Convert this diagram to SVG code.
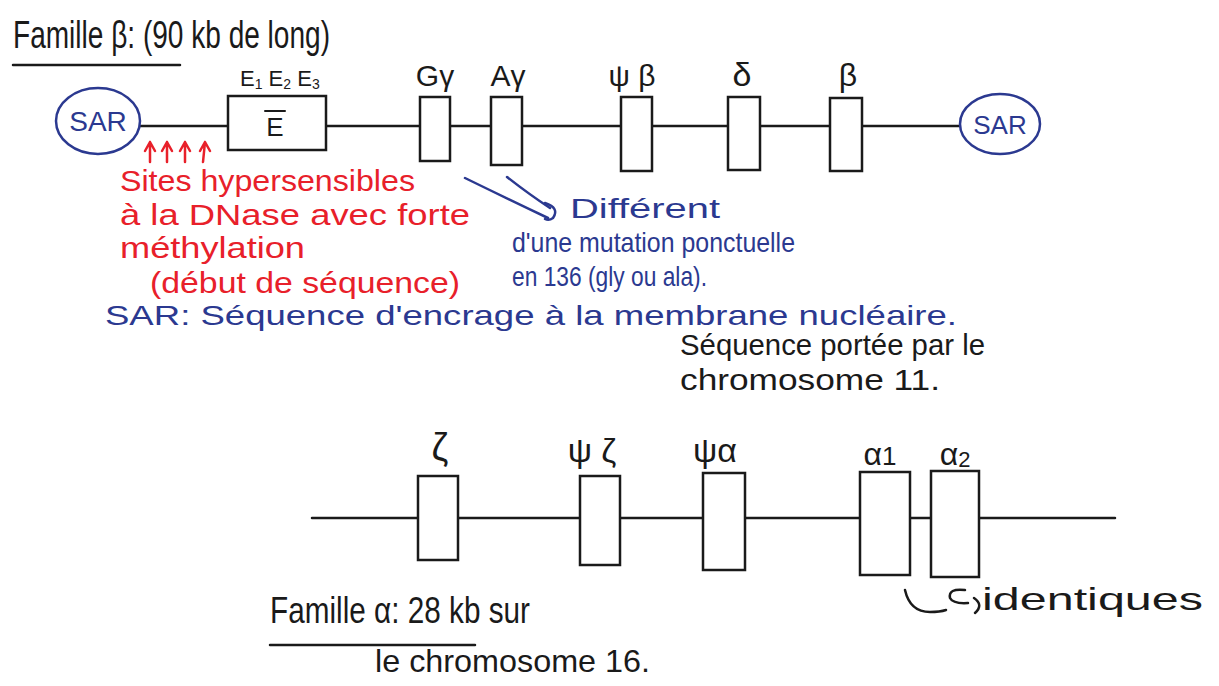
<svg xmlns="http://www.w3.org/2000/svg" width="1219" height="686" viewBox="0 0 1219 686">
<style>
.bg{fill:#ffffff}
.ln{stroke:#1a1a1a;stroke-width:2.5;fill:none;stroke-linecap:round}
.box{stroke:#1a1a1a;stroke-width:2.5;fill:#ffffff}
.sar{stroke:#2b3990;stroke-width:2.5;fill:#ffffff}
.t{font-family:"Liberation Sans",Arial,sans-serif;fill:#1a1a1a}
.red{font-family:"Liberation Sans",Arial,sans-serif;fill:#e8202a}
.blue{font-family:"Liberation Sans",Arial,sans-serif;fill:#2b3990}
.ra{stroke:#e8202a;stroke-width:2.5;fill:none;stroke-linecap:round;stroke-linejoin:round}
.ba{stroke:#2b3990;stroke-width:2.5;fill:none;stroke-linecap:round}
.ka{stroke:#1a1a1a;stroke-width:2.5;fill:none;stroke-linecap:round}
</style>
<rect class="bg" x="0" y="0" width="1219" height="686"/>

<!-- Beta family -->
<g id="title-beta">
<text class="t" x="13" y="48" font-size="38" textLength="317" lengthAdjust="spacingAndGlyphs">Famille β: (90 kb de long)</text>
<line class="ln" x1="13" y1="65" x2="180" y2="65"/>
</g>

<g id="connectors">
<line class="ln" x1="140" y1="126" x2="960" y2="126"/>
<line class="ln" x1="312" y1="518" x2="1115" y2="518"/>
<!-- red arrows -->
<path class="ra" d="M150 162 L150 142 M145 151 L150 142 L155 151"/>
<path class="ra" d="M167 162 L167 142 M162 151 L167 142 L172 151"/>
<path class="ra" d="M185 162 L185 142 M180 151 L185 142 L190 151"/>
<path class="ra" d="M203 162 L205 142 M200 151 L205 142 L210 151"/>
<!-- blue arrows -->
<path class="ba" d="M465 178 Q510 200 548 218"/>
<path class="ba" d="M507 177 Q530 195 550 208"/>
<path class="ba" d="M545 203 Q560 208 553 218 Q549 221 545 219"/>
<!-- identiques bracket -->
<path class="ka" d="M905 590 Q910 612 930 612 Q940 612 946 610"/>
<path class="ka" d="M965 590 Q948 588 950 598 Q953 604 968 603"/>
<path class="ka" d="M974 598 Q984 605 975 613"/>
</g>

<g id="sar-left">
<ellipse class="sar" cx="98" cy="121" rx="42" ry="33"/>
<text class="blue" x="98" y="131" font-size="28" text-anchor="middle">SAR</text>
</g>

<g id="gene-E">
<rect class="box" x="228" y="96" width="98" height="54"/>
<text class="t" x="240" y="86" font-size="22">E<tspan font-size="14" dy="3">1</tspan><tspan dy="-3"> E</tspan><tspan font-size="14" dy="3">2</tspan><tspan dy="-3"> E</tspan><tspan font-size="14" dy="3">3</tspan></text>
<text class="t" x="275" y="136" font-size="26" text-anchor="middle">E</text>
<line class="ln" x1="265" y1="111" x2="285" y2="111" style="stroke-width:2"/>
</g>

<g id="gene-Ggamma">
<rect class="box" x="420" y="97" width="30" height="64"/>
<text class="t" x="435" y="86" font-size="30" text-anchor="middle">Gγ</text>
</g>
<g id="gene-Agamma">
<rect class="box" x="491" y="97" width="31" height="68"/>
<text class="t" x="508" y="86" font-size="30" text-anchor="middle">Aγ</text>
</g>
<g id="gene-psibeta">
<rect class="box" x="621" y="97" width="31" height="74"/>
<text class="t" x="632" y="86" font-size="30" text-anchor="middle">ψ β</text>
</g>
<g id="gene-delta">
<rect class="box" x="728" y="97" width="32" height="73"/>
<text class="t" x="742" y="86" font-size="34" text-anchor="middle">δ</text>
</g>
<g id="gene-beta">
<rect class="box" x="830" y="98" width="32" height="73"/>
<text class="t" x="848" y="86" font-size="32" text-anchor="middle">β</text>
</g>

<g id="sar-right">
<ellipse class="sar" cx="1000" cy="124" rx="40" ry="30"/>
<text class="blue" x="1000" y="134" font-size="26" text-anchor="middle">SAR</text>
</g>

<g id="note-red">
<text class="red" x="120" y="191" font-size="30" textLength="295" lengthAdjust="spacingAndGlyphs">Sites hypersensibles</text>
<text class="red" x="120" y="225" font-size="30" textLength="350" lengthAdjust="spacingAndGlyphs">à la DNase avec forte</text>
<text class="red" x="120" y="258" font-size="30" textLength="185" lengthAdjust="spacingAndGlyphs">méthylation</text>
<text class="red" x="150" y="293" font-size="30" textLength="310" lengthAdjust="spacingAndGlyphs">(début de séquence)</text>
</g>

<g id="note-blue">
<text class="blue" x="570" y="218" font-size="27" textLength="150" lengthAdjust="spacingAndGlyphs">Différent</text>
<text class="blue" x="512" y="252" font-size="28" textLength="283" lengthAdjust="spacingAndGlyphs">d'une mutation ponctuelle</text>
<text class="blue" x="512" y="286" font-size="28" textLength="195" lengthAdjust="spacingAndGlyphs">en 136 (gly ou ala).</text>
<text class="blue" x="105" y="325" font-size="28" textLength="852" lengthAdjust="spacingAndGlyphs">SAR: Séquence d'encrage à la membrane nucléaire.</text>
</g>

<g id="note-chromo11">
<text class="t" x="680" y="355" font-size="30" textLength="305" lengthAdjust="spacingAndGlyphs">Séquence portée par le</text>
<text class="t" x="680" y="390" font-size="30" textLength="260" lengthAdjust="spacingAndGlyphs">chromosome 11.</text>
</g>

<!-- Alpha family -->
<g id="gene-zeta">
<rect class="box" x="418" y="476" width="40" height="84"/>
<text class="t" x="440" y="460" font-size="38" text-anchor="middle">ζ</text>
</g>
<g id="gene-psizeta">
<rect class="box" x="580" y="476" width="40" height="89"/>
<text class="t" x="592" y="462" font-size="34" text-anchor="middle">ψ ζ</text>
</g>
<g id="gene-psialpha">
<rect class="box" x="703" y="473" width="42" height="97"/>
<text class="t" x="715" y="462" font-size="34" text-anchor="middle">ψα</text>
</g>
<g id="gene-alpha1">
<rect class="box" x="860" y="472" width="50" height="103"/>
<text class="t" x="880" y="465" font-size="32" text-anchor="middle">α<tspan font-size="26">1</tspan></text>
</g>
<g id="gene-alpha2">
<rect class="box" x="931" y="471" width="48" height="106"/>
<text class="t" x="955" y="465" font-size="32" text-anchor="middle">α<tspan font-size="22" dy="2">2</tspan></text>
</g>

<g id="note-identiques">
<text class="t" x="982" y="610" font-size="32" textLength="221" lengthAdjust="spacingAndGlyphs">identiques</text>
</g>

<g id="title-alpha">
<text class="t" x="270" y="623" font-size="36" textLength="260" lengthAdjust="spacingAndGlyphs">Famille α: 28 kb sur</text>
<line class="ln" x1="270" y1="645" x2="475" y2="645"/>
<text class="t" x="375" y="672" font-size="32" textLength="275" lengthAdjust="spacingAndGlyphs">le chromosome 16.</text>
</g>
</svg>
